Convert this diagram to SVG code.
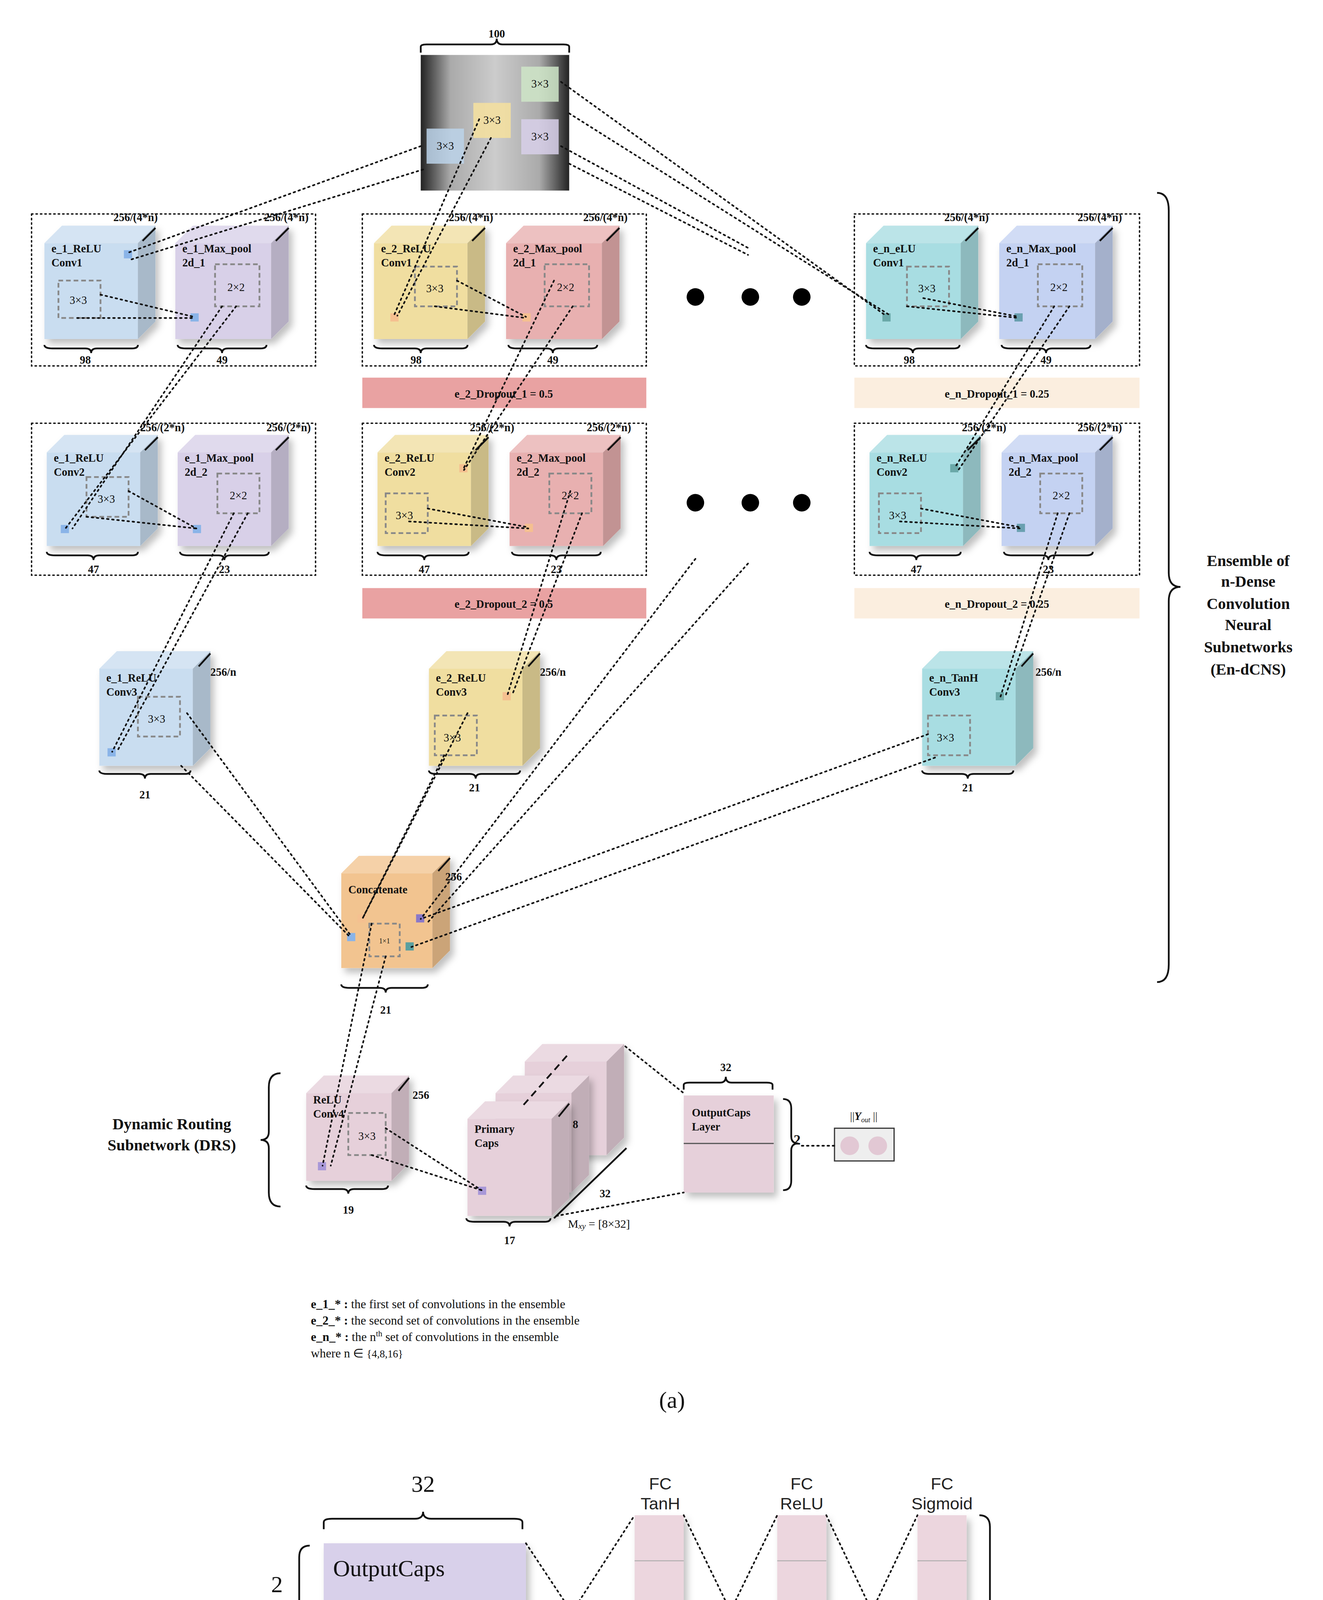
<svg xmlns="http://www.w3.org/2000/svg" width="3388" height="4664" viewBox="0 0 3388 4664">
<style>
.t{font-family:"Liberation Serif",serif;font-weight:bold;font-size:9.5px;fill:#111}
.tn{font-family:"Liberation Serif",serif;font-size:9.5px;fill:#111}
.big{font-family:"Liberation Serif",serif;font-weight:bold;font-size:13.5px;fill:#111}
.cap{font-family:"Liberation Serif",serif;font-size:20px;fill:#111}
.sans{font-family:"Liberation Sans",sans-serif;font-size:14.5px;fill:#222}
.dot{fill:none;stroke:#111;stroke-width:1.4;stroke-dasharray:1.4 3;stroke-linecap:round}
.box{fill:none;stroke:#111;stroke-width:1.2;stroke-dasharray:1.2 2.6;stroke-linecap:round}
.dash{fill:none;stroke:#888;stroke-width:1.5;stroke-dasharray:4 2.5}
.br{fill:none;stroke:#111;stroke-width:1.5}
.sd{fill:#000;opacity:.16}
.tp{fill:#fff;opacity:.22}
.blue{fill:#c9ddf0}.purp{fill:#d8d0e8}.yel{fill:#f0dea0}.red{fill:#e8b0b0}.cyan{fill:#a8dde2}.lav{fill:#c4d2f2}.org{fill:#f2c490}.pink{fill:#e6d0da}
</style>
<defs>
<filter id="sh" x="-20%" y="-20%" width="150%" height="150%"><feDropShadow dx="3" dy="4" stdDeviation="3" flood-opacity="0.25"/></filter>
</defs>
<rect width="3388" height="4664" fill="#fff"/>
<g transform="scale(2.993)">

<!-- X-ray input -->
<g id="input">
<text class="t" x="425" y="32" text-anchor="middle">100</text>
<path class="br" d="M360,45 V40 Q360,38 365,38 H420 Q425,38 425,33 Q425,38 430,38 H482 Q487,38 487,40 V45"/>
<defs><linearGradient id="xr" x1="0" x2="1"><stop offset="0" stop-color="#222"/><stop offset=".2" stop-color="#aaa"/><stop offset=".5" stop-color="#ccc"/><stop offset=".8" stop-color="#aaa"/><stop offset="1" stop-color="#222"/></linearGradient></defs>
<rect x="360" y="47" width="127" height="116" fill="url(#xr)"/>
<rect x="446" y="57" width="32" height="30" fill="#cfe6c8" opacity=".85"/><text class="tn" x="462" y="75" text-anchor="middle">3×3</text>
<rect x="405" y="88" width="32" height="30" fill="#f3dfa0" opacity=".9"/><text class="tn" x="421" y="106" text-anchor="middle">3×3</text>
<rect x="446" y="102" width="32" height="30" fill="#d8d0ea" opacity=".85"/><text class="tn" x="462" y="120" text-anchor="middle">3×3</text>
<rect x="365" y="110" width="32" height="30" fill="#bcd4ea" opacity=".85"/><text class="tn" x="381" y="128" text-anchor="middle">3×3</text>
</g>

<!-- Row 1 -->
<g id="e1_row1">
<rect class="box" x="27" y="183" width="243" height="130"/>
<g filter="url(#sh)" class="blue"><rect x="38" y="208" width="80" height="82"/><polygon points="38,208 53,193 133,193 118,208"/><polygon points="118,208 133,193 133,275 118,290"/></g>
<polygon class="tp" points="38,208 53,193 133,193 118,208"/><polygon class="sd" points="118,208 133,193 133,275 118,290"/>
<text class="t" x="44" y="216">e_1_ReLU</text><text class="t" x="44" y="228">Conv1</text>
<text class="t" x="97" y="189">256/(4*n)</text><path class="br" d="M133,195 L122,206"/>
<rect class="dash" x="50" y="240" width="36" height="32"/><text class="tn" x="67" y="260" text-anchor="middle">3×3</text>
<rect x="106" y="214" width="7" height="7" fill="#8ab4e8"/>
<path class="br" d="M38,295 Q38,298 45,298 H73 Q78,298 78,302 Q78,298 83,298 H113 Q118,298 118,295"/><text class="t" x="73" y="311" text-anchor="middle">98</text>
<g filter="url(#sh)" class="purp"><rect x="150" y="208" width="82" height="82"/><polygon points="150,208 165,193 247,193 232,208"/><polygon points="232,208 247,193 247,275 232,290"/></g>
<polygon class="tp" points="150,208 165,193 247,193 232,208"/><polygon class="sd" points="232,208 247,193 247,275 232,290"/>
<text class="t" x="156" y="216">e_1_Max_pool</text><text class="t" x="156" y="228">2d_1</text>
<text class="t" x="226" y="189">256/(4*n)</text><path class="br" d="M247,195 L236,206"/>
<rect class="dash" x="184" y="226" width="38" height="36"/><text class="tn" x="202" y="249" text-anchor="middle">2×2</text>
<rect x="163" y="268" width="7" height="7" fill="#8ab4e8"/>
<path class="br" d="M152,295 Q152,298 159,298 H185 Q190,298 190,302 Q190,298 195,298 H223 Q228,298 228,295"/><text class="t" x="190" y="311" text-anchor="middle">49</text>
</g>

<g id="e2_row1">
<rect class="box" x="310" y="183" width="243" height="130"/>
<g filter="url(#sh)" class="yel"><rect x="320" y="208" width="80" height="82"/><polygon points="320,208 335,193 415,193 400,208"/><polygon points="400,208 415,193 415,275 400,290"/></g>
<polygon class="tp" points="320,208 335,193 415,193 400,208"/><polygon class="sd" points="400,208 415,193 415,275 400,290"/>
<text class="t" x="326" y="216">e_2_ReLU</text><text class="t" x="326" y="228">Conv1</text>
<text class="t" x="384" y="189">256/(4*n)</text><path class="br" d="M415,195 L404,206"/>
<rect class="dash" x="355" y="228" width="36" height="34"/><text class="tn" x="372" y="250" text-anchor="middle">3×3</text>
<rect x="334" y="268" width="7" height="7" fill="#f5c090"/>
<path class="br" d="M320,295 Q320,298 327,298 H355 Q360,298 360,302 Q360,298 365,298 H395 Q400,298 400,295"/><text class="t" x="356" y="311" text-anchor="middle">98</text>
<g filter="url(#sh)" class="red"><rect x="433" y="208" width="82" height="82"/><polygon points="433,208 448,193 530,193 515,208"/><polygon points="515,208 530,193 530,275 515,290"/></g>
<polygon class="tp" points="433,208 448,193 530,193 515,208"/><polygon class="sd" points="515,208 530,193 530,275 515,290"/>
<text class="t" x="439" y="216">e_2_Max_pool</text><text class="t" x="439" y="228">2d_1</text>
<text class="t" x="499" y="189">256/(4*n)</text><path class="br" d="M530,195 L519,206"/>
<rect class="dash" x="466" y="226" width="38" height="36"/><text class="tn" x="484" y="249" text-anchor="middle">2×2</text>
<rect x="447" y="268" width="7" height="7" fill="#f5c090"/>
<path class="br" d="M435,295 Q435,298 442,298 H468 Q473,298 473,302 Q473,298 478,298 H506 Q511,298 511,295"/><text class="t" x="473" y="311" text-anchor="middle">49</text>
</g>

<g id="ellipsis1"><circle cx="595" cy="254" r="7.5"/><circle cx="642" cy="254" r="7.5"/><circle cx="686" cy="254" r="7.5"/></g>

<g id="en_row1">
<rect class="box" x="731" y="183" width="244" height="130"/>
<g filter="url(#sh)" class="cyan"><rect x="741" y="208" width="81" height="82"/><polygon points="741,208 756,193 837,193 822,208"/><polygon points="822,208 837,193 837,275 822,290"/></g>
<polygon class="tp" points="741,208 756,193 837,193 822,208"/><polygon class="sd" points="822,208 837,193 837,275 822,290"/>
<text class="t" x="747" y="216">e_n_eLU</text><text class="t" x="747" y="228">Conv1</text>
<text class="t" x="808" y="189">256/(4*n)</text><path class="br" d="M837,195 L826,206"/>
<rect class="dash" x="776" y="228" width="36" height="34"/><text class="tn" x="793" y="250" text-anchor="middle">3×3</text>
<rect x="755" y="268" width="7" height="7" fill="#6aa8a8"/>
<path class="br" d="M741,295 Q741,298 748,298 H776 Q781,298 781,302 Q781,298 786,298 H816 Q821,298 821,295"/><text class="t" x="778" y="311" text-anchor="middle">98</text>
<g filter="url(#sh)" class="lav"><rect x="855" y="208" width="82" height="82"/><polygon points="855,208 870,193 952,193 937,208"/><polygon points="937,208 952,193 952,275 937,290"/></g>
<polygon class="tp" points="855,208 870,193 952,193 937,208"/><polygon class="sd" points="937,208 952,193 952,275 937,290"/>
<text class="t" x="861" y="216">e_n_Max_pool</text><text class="t" x="861" y="228">2d_1</text>
<text class="t" x="922" y="189">256/(4*n)</text><path class="br" d="M952,195 L941,206"/>
<rect class="dash" x="888" y="226" width="38" height="36"/><text class="tn" x="906" y="249" text-anchor="middle">2×2</text>
<rect x="868" y="268" width="7" height="7" fill="#6aa0b0"/>
<path class="br" d="M857,295 Q857,298 864,298 H890 Q895,298 895,302 Q895,298 900,298 H928 Q933,298 933,295"/><text class="t" x="895" y="311" text-anchor="middle">49</text>
</g>

<g id="dropout1">
<rect x="310" y="323" width="243" height="26" fill="#e9a2a2"/><text class="t" x="431" y="340" text-anchor="middle">e_2_Dropout_1 = 0.5</text>
<rect x="731" y="323" width="244" height="26" fill="#fbeedf"/><text class="t" x="853" y="340" text-anchor="middle">e_n_Dropout_1 = 0.25</text>
</g>

<!-- Row 2 -->
<g id="e1_row2">
<rect class="box" x="27" y="362" width="243" height="130"/>
<g filter="url(#sh)" class="blue"><rect x="40" y="387" width="80" height="80"/><polygon points="40,387 55,372 135,372 120,387"/><polygon points="120,387 135,372 135,452 120,467"/></g>
<polygon class="tp" points="40,387 55,372 135,372 120,387"/><polygon class="sd" points="120,387 135,372 135,452 120,467"/>
<text class="t" x="46" y="395">e_1_ReLU</text><text class="t" x="46" y="407">Conv2</text>
<text class="t" x="120" y="369">256/(2*n)</text><path class="br" d="M135,374 L124,385"/>
<rect class="dash" x="74" y="408" width="36" height="34"/><text class="tn" x="91" y="430" text-anchor="middle">3×3</text>
<rect x="52" y="449" width="7" height="7" fill="#8ab4e8"/>
<path class="br" d="M40,472 Q40,475 47,475 H75 Q80,475 80,479 Q80,475 85,475 H113 Q118,475 118,472"/><text class="t" x="80" y="490" text-anchor="middle">47</text>
<g filter="url(#sh)" class="purp"><rect x="152" y="387" width="80" height="80"/><polygon points="152,387 167,372 247,372 232,387"/><polygon points="232,387 247,372 247,452 232,467"/></g>
<polygon class="tp" points="152,387 167,372 247,372 232,387"/><polygon class="sd" points="232,387 247,372 247,452 232,467"/>
<text class="t" x="158" y="395">e_1_Max_pool</text><text class="t" x="158" y="407">2d_2</text>
<text class="t" x="228" y="369">256/(2*n)</text><path class="br" d="M247,374 L236,385"/>
<rect class="dash" x="186" y="405" width="36" height="34"/><text class="tn" x="204" y="427" text-anchor="middle">2×2</text>
<rect x="165" y="449" width="7" height="7" fill="#8ab4e8"/>
<path class="br" d="M154,472 Q154,475 161,475 H187 Q192,475 192,479 Q192,475 197,475 H225 Q230,475 230,472"/><text class="t" x="192" y="490" text-anchor="middle">23</text>
</g>

<g id="e2_row2">
<rect class="box" x="310" y="362" width="243" height="130"/>
<g filter="url(#sh)" class="yel"><rect x="323" y="387" width="80" height="80"/><polygon points="323,387 338,372 418,372 403,387"/><polygon points="403,387 418,372 418,452 403,467"/></g>
<polygon class="tp" points="323,387 338,372 418,372 403,387"/><polygon class="sd" points="403,387 418,372 418,452 403,467"/>
<text class="t" x="329" y="395">e_2_ReLU</text><text class="t" x="329" y="407">Conv2</text>
<text class="t" x="402" y="369">256/(2*n)</text><path class="br" d="M418,374 L407,385"/>
<rect class="dash" x="330" y="422" width="36" height="34"/><text class="tn" x="346" y="444" text-anchor="middle">3×3</text>
<rect x="393" y="397" width="7" height="7" fill="#f5c090"/>
<path class="br" d="M323,472 Q323,475 330,475 H358 Q363,475 363,479 Q363,475 368,475 H396 Q401,475 401,472"/><text class="t" x="363" y="490" text-anchor="middle">47</text>
<g filter="url(#sh)" class="red"><rect x="436" y="387" width="80" height="80"/><polygon points="436,387 451,372 531,372 516,387"/><polygon points="516,387 531,372 531,452 516,467"/></g>
<polygon class="tp" points="436,387 451,372 531,372 516,387"/><polygon class="sd" points="516,387 531,372 531,452 516,467"/>
<text class="t" x="442" y="395">e_2_Max_pool</text><text class="t" x="442" y="407">2d_2</text>
<text class="t" x="502" y="369">256/(2*n)</text><path class="br" d="M531,374 L520,385"/>
<rect class="dash" x="470" y="405" width="36" height="34"/><text class="tn" x="488" y="427" text-anchor="middle">2×2</text>
<rect x="449" y="448" width="7" height="7" fill="#f5c090"/>
<path class="br" d="M438,472 Q438,475 445,475 H471 Q476,475 476,479 Q476,475 481,475 H509 Q514,475 514,472"/><text class="t" x="476" y="490" text-anchor="middle">23</text>
</g>

<g id="ellipsis2"><circle cx="595" cy="430" r="7.5"/><circle cx="642" cy="430" r="7.5"/><circle cx="686" cy="430" r="7.5"/></g>

<g id="en_row2">
<rect class="box" x="731" y="362" width="244" height="130"/>
<g filter="url(#sh)" class="cyan"><rect x="744" y="387" width="80" height="80"/><polygon points="744,387 759,372 839,372 824,387"/><polygon points="824,387 839,372 839,452 824,467"/></g>
<polygon class="tp" points="744,387 759,372 839,372 824,387"/><polygon class="sd" points="824,387 839,372 839,452 824,467"/>
<text class="t" x="750" y="395">e_n_ReLU</text><text class="t" x="750" y="407">Conv2</text>
<text class="t" x="823" y="369">256/(2*n)</text><path class="br" d="M839,374 L828,385"/>
<rect class="dash" x="752" y="422" width="36" height="34"/><text class="tn" x="768" y="444" text-anchor="middle">3×3</text>
<rect x="813" y="397" width="7" height="7" fill="#6aa8a8"/>
<path class="br" d="M744,472 Q744,475 751,475 H779 Q784,475 784,479 Q784,475 789,475 H817 Q822,475 822,472"/><text class="t" x="784" y="490" text-anchor="middle">47</text>
<g filter="url(#sh)" class="lav"><rect x="857" y="387" width="80" height="80"/><polygon points="857,387 872,372 952,372 937,387"/><polygon points="937,387 952,372 952,452 937,467"/></g>
<polygon class="tp" points="857,387 872,372 952,372 937,387"/><polygon class="sd" points="937,387 952,372 952,452 937,467"/>
<text class="t" x="863" y="395">e_n_Max_pool</text><text class="t" x="863" y="407">2d_2</text>
<text class="t" x="922" y="369">256/(2*n)</text><path class="br" d="M952,374 L941,385"/>
<rect class="dash" x="890" y="405" width="36" height="34"/><text class="tn" x="908" y="427" text-anchor="middle">2×2</text>
<rect x="870" y="448" width="7" height="7" fill="#6aa0b0"/>
<path class="br" d="M859,472 Q859,475 866,475 H892 Q897,475 897,479 Q897,475 902,475 H930 Q935,475 935,472"/><text class="t" x="897" y="490" text-anchor="middle">23</text>
</g>

<g id="dropout2">
<rect x="310" y="503" width="243" height="26" fill="#e9a2a2"/><text class="t" x="431" y="520" text-anchor="middle">e_2_Dropout_2 = 0.5</text>
<rect x="731" y="503" width="244" height="26" fill="#fbeedf"/><text class="t" x="853" y="520" text-anchor="middle">e_n_Dropout_2 = 0.25</text>
</g>

<!-- Row 3 -->
<g id="e1_conv3">
<g filter="url(#sh)" class="blue"><rect x="85" y="572" width="80" height="83"/><polygon points="85,572 100,557 180,557 165,572"/><polygon points="165,572 180,557 180,640 165,655"/></g>
<polygon class="tp" points="85,572 100,557 180,557 165,572"/><polygon class="sd" points="165,572 180,557 180,640 165,655"/>
<text class="t" x="91" y="583">e_1_ReLU</text><text class="t" x="91" y="595">Conv3</text>
<text class="t" x="180" y="578">256/n</text><path class="br" d="M180,559 L170,570"/>
<rect class="dash" x="118" y="596" width="36" height="34"/><text class="tn" x="134" y="618" text-anchor="middle">3×3</text>
<rect x="92" y="640" width="7" height="7" fill="#8ab4e8"/>
<path class="br" d="M85,659 Q85,662 92,662 H119 Q124,662 124,666 Q124,662 129,662 H158 Q163,662 163,659"/><text class="t" x="124" y="683" text-anchor="middle">21</text>
</g>
<g id="e2_conv3">
<g filter="url(#sh)" class="yel"><rect x="367" y="572" width="80" height="83"/><polygon points="367,572 382,557 462,557 447,572"/><polygon points="447,572 462,557 462,640 447,655"/></g>
<polygon class="tp" points="367,572 382,557 462,557 447,572"/><polygon class="sd" points="447,572 462,557 462,640 447,655"/>
<text class="t" x="373" y="583">e_2_ReLU</text><text class="t" x="373" y="595">Conv3</text>
<text class="t" x="462" y="578">256/n</text><path class="br" d="M462,559 L452,570"/>
<rect class="dash" x="372" y="612" width="36" height="34"/><text class="tn" x="387" y="634" text-anchor="middle">3×3</text>
<rect x="430" y="592" width="7" height="7" fill="#f5c090"/>
<path class="br" d="M367,659 Q367,662 374,662 H402 Q407,662 407,666 Q407,662 412,662 H440 Q445,662 445,659"/><text class="t" x="406" y="677" text-anchor="middle">21</text>
</g>
<g id="en_conv3">
<g filter="url(#sh)" class="cyan"><rect x="789" y="572" width="80" height="83"/><polygon points="789,572 804,557 884,557 869,572"/><polygon points="869,572 884,557 884,640 869,655"/></g>
<polygon class="tp" points="789,572 804,557 884,557 869,572"/><polygon class="sd" points="869,572 884,557 884,640 869,655"/>
<text class="t" x="795" y="583">e_n_TanH</text><text class="t" x="795" y="595">Conv3</text>
<text class="t" x="886" y="578">256/n</text><path class="br" d="M884,559 L874,570"/>
<rect class="dash" x="794" y="612" width="36" height="34"/><text class="tn" x="809" y="634" text-anchor="middle">3×3</text>
<rect x="852" y="592" width="7" height="7" fill="#6aa8a8"/>
<path class="br" d="M789,659 Q789,662 796,662 H823 Q828,662 828,666 Q828,662 833,662 H862 Q867,662 867,659"/><text class="t" x="828" y="677" text-anchor="middle">21</text>
</g>

<!-- Concatenate -->
<g id="concat">
<g filter="url(#sh)" class="org"><rect x="292" y="747" width="78" height="81"/><polygon points="292,747 307,732 385,732 370,747"/><polygon points="370,747 385,732 385,813 370,828"/></g>
<polygon class="tp" points="292,747 307,732 385,732 370,747"/><polygon class="sd" points="370,747 385,732 385,813 370,828"/>
<text class="t" x="298" y="764">Concatenate</text>
<text class="t" x="381" y="753">256</text><path class="br" d="M385,734 L375,745"/>
<rect class="dash" x="316" y="790" width="26" height="28"/><text class="tn" x="329" y="807" text-anchor="middle" style="font-size:6px">1×1</text>
<rect x="297" y="798" width="7" height="7" fill="#8ab4e8"/>
<rect x="306" y="782" width="7" height="7" fill="#f5c090"/>
<rect x="356" y="782" width="7" height="7" fill="#8a78c8"/>
<rect x="347" y="806" width="7" height="7" fill="#5aa0a0"/>
<path class="br" d="M292,842 Q292,845 299,845 H325 Q330,845 330,849 Q330,845 335,845 H361 Q366,845 366,842"/><text class="t" x="330" y="867" text-anchor="middle">21</text>
</g>

<g id="ensemble_label">
<path class="br" d="M990,165 Q1000,165 1000,180 V490 Q1000,502 1010,502 Q1000,502 1000,514 V825 Q1000,840 990,840"/>
<text class="big" text-anchor="middle"><tspan x="1068" y="484">Ensemble of</tspan><tspan x="1068" y="502">n-Dense</tspan><tspan x="1068" y="521">Convolution</tspan><tspan x="1068" y="539">Neural</tspan><tspan x="1068" y="558">Subnetworks</tspan><tspan x="1068" y="577">(En-dCNS)</tspan></text>
</g>

<!-- DRS -->
<g id="drs_label">
<path class="br" d="M240,918 Q230,918 230,930 V968 Q230,975 223,975 Q230,975 230,982 V1020 Q230,1032 240,1032"/>
<text class="big" text-anchor="middle"><tspan x="147" y="966">Dynamic Routing</tspan><tspan x="147" y="984">Subnetwork (DRS)</tspan></text>
</g>
<g id="conv4">
<g filter="url(#sh)" class="pink"><rect x="262" y="935" width="73" height="75"/><polygon points="262,935 277,920 350,920 335,935"/><polygon points="335,935 350,920 350,995 335,1010"/></g>
<polygon class="tp" points="262,935 277,920 350,920 335,935"/><polygon class="sd" points="335,935 350,920 350,995 335,1010"/>
<text class="t" x="268" y="944">ReLU</text><text class="t" x="268" y="956">Conv4</text>
<text class="t" x="353" y="940">256</text><path class="br" d="M350,922 L341,933"/>
<rect class="dash" x="298" y="952" width="32" height="36"/><text class="tn" x="314" y="975" text-anchor="middle">3×3</text>
<rect x="272" y="994" width="7" height="7" fill="#a898d8"/>
<path class="br" d="M262,1014 Q262,1017 269,1017 H293 Q298,1017 298,1021 Q298,1017 303,1017 H327 Q332,1017 332,1014"/><text class="t" x="298" y="1038" text-anchor="middle">19</text>
</g>
<g id="primarycaps">
<g filter="url(#sh)" class="pink"><rect x="449" y="908" width="70" height="80"/><polygon points="449,908 464,893 534,893 519,908"/><polygon points="519,908 534,893 534,973 519,988"/></g>
<polygon class="tp" points="449,908 464,893 534,893 519,908"/><polygon class="sd" points="519,908 534,893 534,973 519,988"/>
<g filter="url(#sh)" class="pink"><rect x="424" y="935" width="65" height="85"/><polygon points="424,935 439,920 504,920 489,935"/><polygon points="489,935 504,920 504,1005 489,1020"/></g>
<polygon class="tp" points="424,935 439,920 504,920 489,935"/><polygon class="sd" points="489,935 504,920 504,1005 489,1020"/>
<g filter="url(#sh)" class="pink"><rect x="400" y="957" width="72" height="83"/><polygon points="400,957 415,942 487,942 472,957"/><polygon points="472,957 487,942 487,1025 472,1040"/></g>
<polygon class="tp" points="400,957 415,942 487,942 472,957"/><polygon class="sd" points="472,957 487,942 487,1025 472,1040"/>
<path d="M448,945 L486,902" stroke="#111" stroke-width="1.5" stroke-dasharray="6 4"/>
<text class="t" x="406" y="969">Primary</text><text class="t" x="406" y="981">Caps</text>
<text class="t" x="490" y="965">8</text><path class="br" d="M487,944 L478,955"/>
<path class="br" d="M474,1042 L536,982"/><text class="t" x="513" y="1024">32</text>
<rect x="409" y="1015" width="7" height="7" fill="#a898d8"/>
<text class="tn" x="486" y="1050" style="font-size:10px">M<tspan style="font-size:7px;font-style:italic" dy="1">xy</tspan><tspan dy="-1"> = [8×32]</tspan></text>
<path class="br" d="M399,1042 Q399,1045 406,1045 H431 Q436,1045 436,1049 Q436,1045 441,1045 H466 Q471,1045 471,1042"/><text class="t" x="436" y="1064" text-anchor="middle">17</text>
</g>
<g id="outputcaps">
<text class="t" x="621" y="916" text-anchor="middle">32</text>
<path class="br" d="M585,932 V928 Q585,926 590,926 H616 Q621,926 621,921 Q621,926 626,926 H656 Q661,926 661,928 V932"/>
<rect x="585" y="937" width="77" height="83" fill="#e6d0da" filter="url(#sh)"/>
<line x1="585" y1="978" x2="662" y2="978" stroke="#555" stroke-width="1"/>
<text class="t" x="592" y="955">OutputCaps</text><text class="t" x="592" y="967">Layer</text>
<path class="br" d="M670,940 Q677,940 677,948 V972 Q677,978 683,978 Q677,978 677,984 V1010 Q677,1018 670,1018"/>
<text class="big" x="679" y="979" style="font-size:12px">2</text>
</g>
<g id="yout">
<text class="tn" x="739" y="958" text-anchor="middle">||<tspan font-style="italic" font-weight="bold">Y</tspan><tspan style="font-size:6px;font-style:italic" dy="2">out</tspan><tspan dy="-2"> ||</tspan></text>
<rect x="714" y="965" width="51" height="28" fill="#eee" stroke="#333" stroke-width="1"/>
<circle cx="727" cy="980" r="8" fill="#e2c8d4"/><circle cx="751" cy="980" r="8" fill="#e2c8d4"/>
</g>

<g id="legend_a" class="tn" style="font-size:10.5px">
<text x="266" y="1119"><tspan font-weight="bold">e_1_* :</tspan> the first set of convolutions in the ensemble</text>
<text x="266" y="1133"><tspan font-weight="bold">e_2_* :</tspan> the second set of convolutions in the ensemble</text>
<text x="266" y="1147"><tspan font-weight="bold">e_n_* :</tspan> the n<tspan dy="-4" style="font-size:7px">th</tspan><tspan dy="4"> set of convolutions in the ensemble</tspan></text>
<text x="266" y="1161">where  n ∈ <tspan style="font-size:9px">{4,8,16}</tspan></text>
</g>
<text class="cap" x="575" y="1204" text-anchor="middle">(a)</text>

<!-- connectors (a) -->
<g id="connectors">
<path class="dot" d="M360,125 L110,216 M362,145 L112,222"/>
<path class="dot" d="M410,102 L337,270 M420,118 L340,270"/>
<path class="dot" d="M480,70 L758,270 M487,97 L762,270"/>
<path class="dot" d="M480,125 L640,212 M487,140 L640,218"/>
<path class="dot" d="M86,252 L166,271 M66,272 L166,272"/>
<path class="dot" d="M202,262 L56,452 M190,262 L62,452"/>
<path class="dot" d="M110,420 L168,452 M74,442 L168,452"/>
<path class="dot" d="M200,439 L96,643 M212,439 L100,643"/>
<path class="dot" d="M160,610 L300,800 M155,655 L300,802"/>
<path class="dot" d="M391,240 L450,271 M372,262 L450,272"/>
<path class="dot" d="M474,240 L397,400 M490,262 L397,402"/>
<path class="dot" d="M366,435 L452,451 M350,446 L452,452"/>
<path class="dot" d="M488,420 L434,595 M498,439 L438,595"/>
<path class="dot" d="M400,610 L310,786 M380,646 L310,786"/>
<path class="dot" d="M595,478 L360,786 M640,482 L365,790"/>
<path class="dot" d="M794,628 L360,786 M800,648 L352,810"/>
<path class="dot" d="M790,255 L872,271 M776,262 L872,272"/>
<path class="dot" d="M902,262 L817,400 M915,262 L820,402"/>
<path class="dot" d="M788,435 L873,451 M770,446 L873,452"/>
<path class="dot" d="M905,439 L856,596 M915,439 L860,596"/>
<path class="dot" d="M318,790 L276,997 M330,818 L283,997"/>
<path class="dot" d="M330,965 L412,1018 M318,988 L412,1018"/>
<path class="dot" d="M535,895 L585,935 M476,1040 L585,1020"/>
<path class="dot" d="M686,980 L714,980"/>
</g>

<!-- Part b -->
<g id="b_outputcaps">
<text class="cap" x="362" y="1276" text-anchor="middle">32</text>
<path class="br" d="M277,1308 V1302 Q277,1299 284,1299 H355 Q362,1299 362,1293 Q362,1299 369,1299 H440 Q447,1299 447,1302 V1308"/>
<rect x="277" y="1320" width="173" height="60" fill="#d8d0ea" filter="url(#sh)"/>
<rect x="277" y="1380" width="173" height="60" fill="#b0a2d4"/>
<line x1="277" y1="1380" x2="450" y2="1380" stroke="#666" stroke-width=".8"/>
<text class="cap" x="285" y="1348">OutputCaps</text>
<path class="br" d="M265,1322 Q256,1322 256,1332 V1372 Q256,1380 248,1380 Q256,1380 256,1388 V1430 Q256,1440 265,1440"/>
<text class="cap" x="237" y="1362" text-anchor="middle">2</text>
</g>
<g id="fc_tanh">
<text class="sans" x="565" y="1274" text-anchor="middle">FC</text><text class="sans" x="565" y="1291" text-anchor="middle">TanH</text>
<rect x="543" y="1296" width="42" height="164" fill="#ecd6de" filter="url(#sh)"/>
<path d="M543,1335 H585 M543,1380 H585 M543,1425 H585" stroke="#aaa" stroke-width=".8"/>
</g>
<g id="fc_relu">
<text class="sans" x="686" y="1274" text-anchor="middle">FC</text><text class="sans" x="686" y="1291" text-anchor="middle">ReLU</text>
<rect x="665" y="1296" width="42" height="164" fill="#ecd6de" filter="url(#sh)"/>
<path d="M665,1335 H707 M665,1380 H707 M665,1425 H707" stroke="#aaa" stroke-width=".8"/>
</g>
<g id="fc_sigmoid">
<text class="sans" x="806" y="1274" text-anchor="middle">FC</text><text class="sans" x="806" y="1291" text-anchor="middle">Sigmoid</text>
<rect x="785" y="1296" width="42" height="164" fill="#ecd6de" filter="url(#sh)"/>
<path d="M785,1335 H827 M785,1380 H827 M785,1425 H827" stroke="#aaa" stroke-width=".8"/>
</g>
<g id="b_connectors">
<path class="dot" d="M450,1320 L543,1460 M450,1440 L543,1296 M585,1296 L665,1460 M585,1460 L665,1296 M707,1296 L785,1460 M707,1460 L785,1296"/>
</g>
<text class="cap" x="624" y="1384" text-anchor="middle">512</text>
<text class="cap" x="746" y="1384" text-anchor="middle">5120</text>
<path class="br" d="M838,1296 Q847,1296 847,1306 V1370 Q847,1378 855,1378 Q847,1378 847,1386 V1450 Q847,1460 838,1460"/>
<text class="cap" x="860" y="1384">100×100</text>
<g id="legend_b">
<rect x="280" y="1485" width="18" height="17" fill="#ecd6de" filter="url(#sh)"/><text class="sans" x="300" y="1499">= 0 Masked</text>
<rect x="456" y="1485" width="18" height="17" fill="#b0a2d4" filter="url(#sh)"/><text class="sans" x="476" y="1499">= Representation of the reconstruction target</text>
</g>
<text class="cap" x="575" y="1551" text-anchor="middle">(b)</text>
</g>
</svg>
